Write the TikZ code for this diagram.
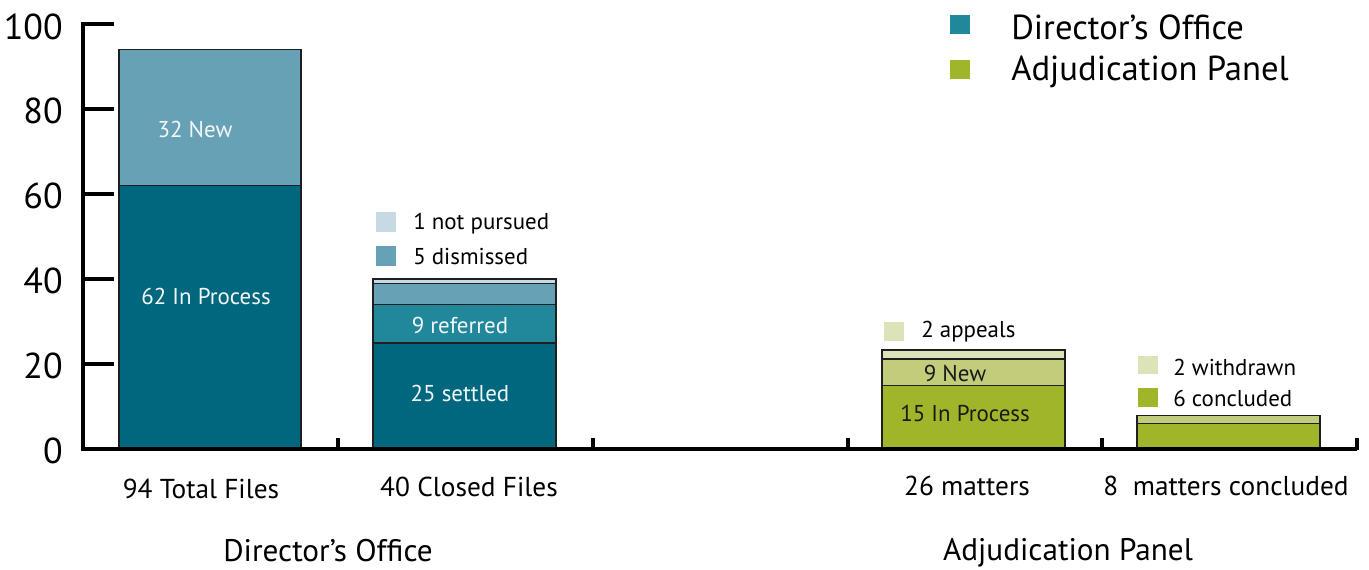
\documentclass[tikz,border=0pt]{standalone}
\usepackage{fontspec}
\setmainfont{PT Sans}
\definecolor{tealD}{HTML}{00677F}
\definecolor{tealM}{HTML}{21879B}
\definecolor{tealL}{HTML}{66A1B5}
\definecolor{tealXL}{HTML}{C5DAE2}
\definecolor{oliveD}{HTML}{A1B52A}
\definecolor{oliveM}{HTML}{C3CC7A}
\definecolor{oliveL}{HTML}{DDE3B8}
\definecolor{inkT}{HTML}{F2F7F9}
\begin{document}
\begin{tikzpicture}[x=0.75pt,y=-0.75pt,
  seg/.style={draw=black!88,line width=1.1pt},
  axisline/.style={line width=2.3pt,line cap=butt},
  ylab/.style={anchor=east,inner sep=0,font=\fontsize{27}{30}\selectfont},
  cat/.style={inner sep=0,font=\fontsize{20.5}{24}\selectfont},
  grp/.style={inner sep=0,font=\fontsize{23.4}{27}\selectfont},
  inbar/.style={inner sep=0,font=\fontsize{17.2}{20}\selectfont},
  key/.style={inner sep=0,anchor=west,font=\fontsize{17.2}{20}\selectfont},
  bigkey/.style={inner sep=0,anchor=west,font=\fontsize{26}{30}\selectfont}]
\useasboundingbox (0,0) rectangle (1369,569);

% bar 1: 94 total files
\filldraw[seg,fill=tealD] (119,449) rectangle (301,185.5);
\filldraw[seg,fill=tealL] (119,185.5) rectangle (301,49.5);
% bar 2: 40 closed files
\filldraw[seg,fill=tealD] (373,449) rectangle (556,343);
\filldraw[seg,fill=tealM] (373,343) rectangle (556,304.5);
\filldraw[seg,fill=tealL] (373,304.5) rectangle (556,283.5);
\filldraw[seg,fill=tealXL] (373,283.5) rectangle (556,279);
% bar 3: 26 matters
\filldraw[seg,fill=oliveD] (882,449) rectangle (1065,385.5);
\filldraw[seg,fill=oliveM] (882,385.5) rectangle (1065,359);
\filldraw[seg,fill=oliveL] (882,359) rectangle (1065,350);
% bar 4: 8 matters concluded
\filldraw[seg,fill=oliveD] (1137,449) rectangle (1320,423.7);
\filldraw[seg,fill=oliveM] (1137,423.7) rectangle (1320,415.5);

% axes
\coordinate (top) at (83,24);
\coordinate (origin) at (83,449);
\coordinate (xend) at (1357,449);
\draw[axisline] (114,24) -- (top) -- (origin) -- (xend);
\foreach \yy in {109,194,279,364} \draw[axisline] (83,\yy) -- (114,\yy);
\foreach \xx in {338,593,848,1102,1357} \draw[axisline] (\xx,450) -- (\xx,438);

% y labels
\node[ylab] (y100) at (63,27) {100};
\node[ylab] (y80) at (63,111) {80};
\node[ylab] (y60) at (63,196) {60};
\node[ylab] (y40) at (63,281) {40};
\node[ylab] (y20) at (63,366) {20};
\node[ylab] (y0) at (63,451) {0};

% in-bar labels
\node[inbar,text=inkT] (n32) at (195,129) {32 New};
\node[inbar,text=inkT] (n62) at (206,296) {62 In Process};
\node[inbar,text=inkT] (n9r) at (460,325) {9 referred};
\node[inbar,text=inkT] (n25) at (460,393) {25 settled};
\node[inbar,text=black!90] (n9n) at (955,373) {9 New};
\node[inbar,text=black!90] (n15) at (965,413) {15 In Process};

% small keys
\fill[tealXL] (376,212) rectangle (396,232);
\node[key] (knp) at (413,224) {1 not pursued};
\fill[tealL] (376,246) rectangle (396,266);
\node[key] (kdis) at (413,257) {5 dismissed};
\fill[oliveL] (884,322) rectangle (904,341);
\node[key] (kapp) at (921,332) {2 appeals};
\fill[oliveL] (1138,356) rectangle (1158,374);
\node[key] (kwd) at (1173,367) {2 withdrawn};
\fill[oliveD] (1138,388) rectangle (1158,407);
\node[key] (kcon) at (1173,398) {6 concluded};

% main legend
\fill[tealM] (950,15) rectangle (970,34);
\node[bigkey] (lgd) at (1011,27) {Director’s Office};
\fill[oliveD] (950,60) rectangle (970,79);
\node[bigkey] (lga) at (1011,72) {Adjudication Panel};

% category labels
\node[cat] (c1) at (201,489) {94 Total Files};
\node[cat] (c2) at (469,487) {40 Closed Files};
\node[cat] (c3) at (967,486) {26 matters};
\node[cat] (c4) at (1226,486) {8\ \ matters concluded};

% group labels
\node[grp] (g1) at (328,551) {Director’s Office};
\node[grp] (g2) at (1068,553) {Adjudication Panel};
\end{tikzpicture}
\end{document}
